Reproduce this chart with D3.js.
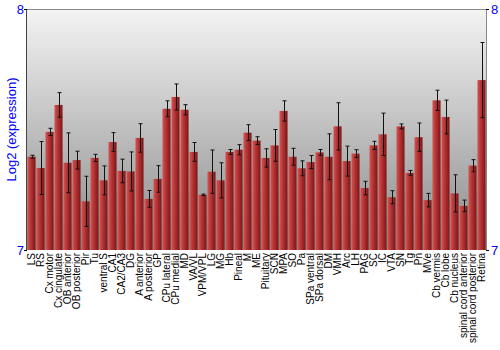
<!DOCTYPE html>
<html>
<head>
<meta charset="utf-8">
<script src="https://cdn.jsdelivr.net/npm/d3@7"></script>
<style>
  body { margin: 0; background: #fff; }
  svg { display: block; font-family: "Liberation Sans", Arial, sans-serif; }
</style>
</head>
<body>
<div class="chart"></div>
<script>
const regions = [
    'LS', 'RS', 'Cx motor', 'Cx cingulate', 'OB anterior', 'OB posterior', 'Pir', 'Tu',
    'ventral S', 'CA1', 'CA2/CA3', 'DG', 'A anterior', 'A posterior', 'GP', 'CPu lateral',
    'CPu medial', 'MD', 'VA/VL', 'VPM/VPL', 'LG', 'MG', 'Hb', 'Pineal', 'M', 'ME',
    'Pituitary', 'SCN', 'MPA', 'SO', 'Pa', 'SPa ventral', 'SPa dorsal', 'DM', 'VMH', 'Arc',
    'LH', 'PAG', 'SC', 'IC', 'VTA', 'SN', 'Tg', 'Pn', 'MVe', 'Cb vermis', 'Cb lobe',
    'Cb nucleus', 'spinal cord anterior', 'spinal cord posterior', 'Retina'
]
const values = [
    7.387, 7.340, 7.490, 7.602, 7.362, 7.373, 7.202, 7.382,
    7.289, 7.448, 7.328, 7.326, 7.465, 7.212, 7.295, 7.586,
    7.635, 7.582, 7.407, 7.229, 7.325, 7.289, 7.407, 7.416, 7.487, 7.454,
    7.382, 7.434, 7.577, 7.387, 7.339, 7.365, 7.405, 7.387, 7.513, 7.369,
    7.400, 7.257, 7.434, 7.480, 7.219, 7.513, 7.320, 7.468, 7.207, 7.621, 7.552,
    7.235, 7.183, 7.350, 7.705
]
const errors = [
    0.006, 0.110, 0.015, 0.051, 0.124, 0.037, 0.104, 0.015,
    0.060, 0.039, 0.049, 0.081, 0.059, 0.035, 0.055, 0.033,
    0.054, 0.021, 0.039, 0.003, 0.090, 0.073, 0.010, 0.021, 0.033, 0.016,
    0.038, 0.066, 0.042, 0.035, 0.031, 0.027, 0.012, 0.095, 0.098, 0.062,
    0.016, 0.028, 0.017, 0.088, 0.027, 0.010, 0.010, 0.059, 0.028, 0.042, 0.070,
    0.077, 0.024, 0.025, 0.156
]
const yTicks = [7, 8]

const W = 500, H = 350
const m = { left: 27, right: 14, top: 9, bottom: 100 }
const pw = W - m.left - m.right
const ph = H - m.top - m.bottom

const svg = d3.select('.chart').append('svg')
    .attr('width', W)
    .attr('height', H)

const defs = svg.append('defs')
let bg = defs.append('linearGradient').attr('id', 'bg')
    .attr('x1', 0).attr('y1', 0).attr('x2', 0).attr('y2', 1)
bg.append('stop').attr('offset', '0%').attr('stop-color', '#f4f4f4')
bg.append('stop').attr('offset', '100%').attr('stop-color', '#8a8a8a')

let bar = defs.append('linearGradient').attr('id', 'bar')
    .attr('x1', 0).attr('y1', 0).attr('x2', 1).attr('y2', 0)
bar.append('stop').attr('offset', '0%').attr('stop-color', '#d25656')
bar.append('stop').attr('offset', '40%').attr('stop-color', '#b73434')
bar.append('stop').attr('offset', '100%').attr('stop-color', '#7c1616')

const x = d3.scaleBand().domain(regions).range([m.left, m.left + pw]).paddingInner(0.1).paddingOuter(0.05)
const y = d3.scaleLinear().domain([7, 8]).range([m.top + ph, m.top])

// background
svg.append('rect')
    .attr('x', m.left).attr('y', m.top)
    .attr('width', pw).attr('height', ph)
    .attr('fill', 'url(#bg)')

// bars
svg.append('g').selectAll('rect')
    .data(regions)
    .join('rect')
    .attr('x', d => x(d))
    .attr('y', (d, i) => y(values[i]))
    .attr('width', x.bandwidth())
    .attr('height', (d, i) => y(7) - y(values[i]))
    .attr('fill', 'url(#bar)')

// error bars
let eg = svg.append('g').attr('stroke', '#111').attr('stroke-width', 1)
regions.forEach((d, i) => {
    let cx = Math.round(x(d) + x.bandwidth() / 2) + 0.5
    let y1 = y(values[i] + errors[i]), y2 = y(values[i] - errors[i])
    eg.append('line').attr('x1', cx).attr('x2', cx).attr('y1', y1).attr('y2', y2)
    eg.append('line').attr('x1', cx - 2).attr('x2', cx + 2).attr('y1', y1).attr('y2', y1)
    eg.append('line').attr('x1', cx - 2).attr('x2', cx + 2).attr('y1', y2).attr('y2', y2)
})

// frame lines
svg.append('line')
    .attr('x1', m.left).attr('x2', m.left + pw)
    .attr('y1', m.top + 0.5).attr('y2', m.top + 0.5)
    .attr('stroke', '#888')
svg.append('line')
    .attr('x1', m.left + pw + 0.5).attr('x2', m.left + pw + 0.5)
    .attr('y1', m.top).attr('y2', m.top + ph)
    .attr('stroke', '#888')
svg.append('line')
    .attr('x1', m.left - 0.5).attr('x2', m.left - 0.5)
    .attr('y1', m.top).attr('y2', m.top + ph)
    .attr('stroke', '#444')

// y axes
let yl = svg.append('g').attr('transform', `translate(${m.left},0)`)
    .call(d3.axisLeft(y).tickValues(yTicks).tickFormat(d3.format('d')).tickSize(3))
let yr = svg.append('g').attr('transform', `translate(${m.left + pw},0)`)
    .call(d3.axisRight(y).tickValues(yTicks).tickFormat(d3.format('d')).tickSize(3))
for (let a of [yl, yr]) {
    a.select('.domain').remove()
    a.selectAll('line').attr('stroke', '#000')
    a.selectAll('text').attr('fill', '#0000ff').style('font-size', '13px')
        .style('font-family', '"Liberation Sans", Arial, sans-serif')
}
yl.selectAll('text').attr('x', -3)
yr.selectAll('text').attr('x', 5)

// x labels
let xa = svg.append('g').attr('transform', `translate(0,${m.top + ph})`)
    .call(d3.axisBottom(x).tickSize(0))
xa.select('.domain').remove()
xa.selectAll('text')
    .attr('transform', 'rotate(-90)')
    .attr('x', -3).attr('y', 0).attr('dy', '0.35em')
    .attr('text-anchor', 'end')
    .attr('fill', '#000')
    .style('font-size', '10px')
    .style('font-family', '"Liberation Sans", Arial, sans-serif')

// y label
svg.append('text')
    .attr('transform', `translate(16,${m.top + ph / 2}) rotate(-90)`)
    .attr('text-anchor', 'middle')
    .attr('fill', '#0000ff')
    .style('font-size', '13px')
    .text('Log2 (expression)')
</script>
</body>
</html>
